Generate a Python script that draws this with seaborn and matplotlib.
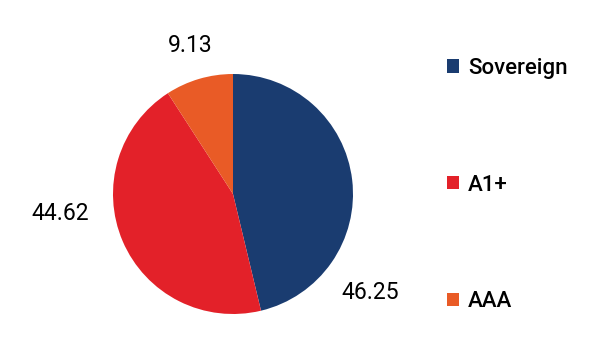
import matplotlib
matplotlib.use("Agg")
import matplotlib.pyplot as plt
import seaborn as sns

sns.set_theme(style="white")
plt.rcParams['font.family'] = ['Roboto', 'DejaVu Sans']

categories = ["Sovereign", "A1+", "AAA"]
values = [46.25, 44.62, 9.13]
value_labels = ["46.25", "44.62", "9.13"]
colors = ["#1a3c70", "#e32129", "#e95b26"]
label_pos = [(1.14, -0.82), (-1.44, -0.16), (-0.36, 1.24)]

fig = plt.figure(figsize=(5.98, 3.6), dpi=100)
ax = fig.add_axes([53/598, -14/360, 360/598, 1.0])
wedges, _ = ax.pie(values, colors=colors, startangle=90, counterclock=False,
                   radius=1.0, wedgeprops=dict(linewidth=0))
ax.set_xlim(-1.5, 1.5)
ax.set_ylim(-1.5, 1.5)
ax.set_aspect("equal")
ax.axis("off")

for (x, y), t in zip(label_pos, value_labels):
    ax.text(x, y, t, ha="center", va="center", fontsize=16.5, color="black", clip_on=False)

leg = fig.legend(wedges, categories, loc="upper left", bbox_to_anchor=(447/598, 1 - 58/360),
                 frameon=False, prop=dict(size=16, weight="medium"),
                 handlelength=0.55, handleheight=0.55,
                 handletextpad=0.4, labelspacing=4.3, borderaxespad=0, borderpad=0)
for t in leg.get_texts():
    t.set_color("black")

fig.savefig("out.png", dpi=100)
